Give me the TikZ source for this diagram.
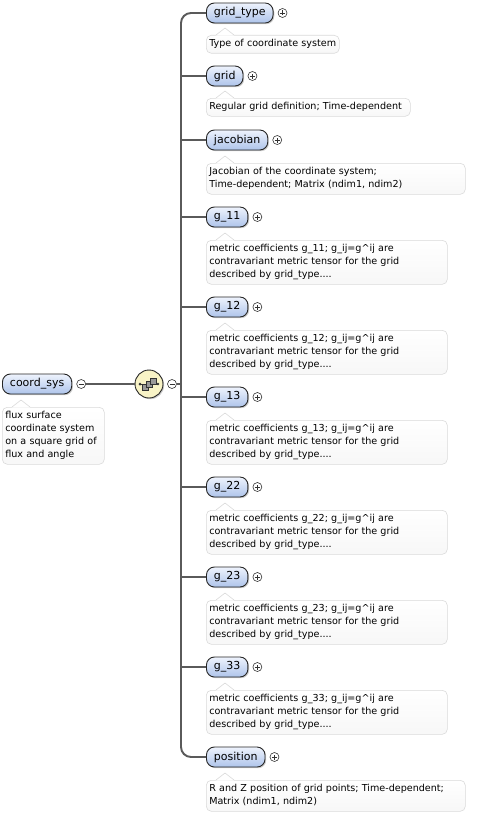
\documentclass[tikz,border=0pt]{standalone}
\usepackage{fontspec}
\setmainfont{DejaVu Sans}
\usetikzlibrary{shadows}
\definecolor{elemtop}{HTML}{EEF3FD}
\definecolor{elembot}{HTML}{AEC4EA}
\definecolor{linegray}{HTML}{5A5A5A}
\definecolor{notebord}{HTML}{DADADA}
\definecolor{seqfill}{HTML}{F8F3C6}
% little pointer on top of a note
\newcommand\notch[1]{%
  \path[fill=white] ([xshift=10pt,yshift=-0.6pt]#1.north west) -- ++(9pt,7.6pt) -- ++(9pt,-7.6pt) -- cycle;
  \draw[draw=notebord,line width=0.6pt] ([xshift=10pt]#1.north west) -- ++(9pt,7pt) -- ++(9pt,-7pt);}
\begin{document}
\begin{tikzpicture}[
    x=1pt, y=-1pt,
    elem/.style={draw=black!85,line width=0.9pt,rounded corners=8pt,top color=elemtop,bottom color=elembot,
        minimum height=20pt,inner xsep=7.5pt,inner ysep=0pt,anchor=west,font=\fontsize{11}{12}\selectfont,
        drop shadow={shadow xshift=1.2pt,shadow yshift=-1.2pt,fill=black!40}},
    note/.style={draw=notebord,line width=0.6pt,rounded corners=5pt,top color=white,bottom color=black!3,
        anchor=north west,align=left,inner xsep=3pt,inner ysep=2.5pt,font=\fontsize{9.6}{13}\selectfont,
        execute at begin node=\strut,execute at end node=\strut},
    pm/.style={circle,draw=black!80,fill=white,line width=0.6pt,minimum size=9pt,inner sep=0pt},
    pmminus/.style={pm,path picture={\draw[line width=0.6pt] (path picture bounding box.center) ++(-2.5pt,0) -- ++(5pt,0);}},
    pmplus/.style={pm,path picture={\draw[line width=0.6pt] (path picture bounding box.center) ++(-2.5pt,0) -- ++(5pt,0)
        (path picture bounding box.center) ++(0,-2.5pt) -- ++(0,5pt);}},
    seq/.style={circle,draw=black!85,line width=0.9pt,fill=seqfill,minimum size=28pt,inner sep=0pt,
        drop shadow={shadow xshift=1.2pt,shadow yshift=-1.2pt,fill=black!40}},
    seqbox/.style={draw=black!80,fill=black!40,line width=0.5pt,minimum size=6pt,inner sep=0pt},
    conn/.style={draw=linegray,line width=1.9pt},
    >=stealth
]
\useasboundingbox (0,0) rectangle (489,816);

% root element
\node[elem] (coordsys) at (2,384) {coord\_sys};
\node[pmminus] (coordsysm) at ([xshift=9pt]coordsys.east) {};
\node[note,text width=96pt] (coordsysnote) at (2,407) {flux surface\\coordinate system\\on a square grid of\\flux and angle};
\notch{coordsysnote}

% sequence
\node[seq] (seq) at (149,384) {};
\node[pmminus] (seqm) at (172,384) {};
\coordinate (bus) at (181,384);
\draw[conn] (coordsysm) -- (seq);
\draw[conn] (seqm) -- (bus);
\draw[black!80,line width=0.7pt] ([xshift=-9pt]seq.center) -- ([xshift=9pt]seq.center);
\fill[black!80] ([xshift=-9pt]seq.center) circle (1.5pt);
\node[seqbox] (sq1) at ([xshift=-4pt,yshift=-3pt]seq.center) {};
\node[seqbox] (sq2) at (seq.center) {};
\node[seqbox] (sq3) at ([xshift=4pt,yshift=3pt]seq.center) {};
\fill[black!80] ([xshift=9pt]seq.center) circle (1.3pt);

% children
\node[elem] (gridtype) at (206,13) {grid\_type};
\node[pmplus] (gridtypep) at ([xshift=9pt]gridtype.east) {};
\node[note,text width=127pt] (gridtypenote) at (206,35) {Type of coordinate system};
\notch{gridtypenote}

\node[elem] (grid) at (206,76) {grid};
\node[pmplus] (gridp) at ([xshift=9pt]grid.east) {};
\node[note,text width=198pt] (gridnote) at (206,98) {Regular grid definition; Time-dependent};
\notch{gridnote}

\node[elem] (jacobian) at (206,140) {jacobian};
\node[pmplus] (jacobianp) at ([xshift=9pt]jacobian.east) {};
\node[note,text width=253pt] (jacobiannote) at (206,163) {Jacobian of the coordinate system;\\Time-dependent; Matrix (ndim1, ndim2)};
\notch{jacobiannote}

\foreach \g [count=\i from 0] in {11,12,13,22,23,33} {
  \node[elem] (g\g) at (206,217+90*\i) {g\_\g};
  \node[pmplus] (p\g) at ([xshift=9pt]g\g.east) {};
  \node[note,text width=235pt] (n\g) at (206,240+90*\i)
    {metric coefficients g\_\g; g\_ij=g\textasciicircum ij are\\contravariant metric tensor for the grid\\described by grid\_type....};
  \notch{n\g}
  \draw[conn] (bus |- g\g.west) -- (g\g.west);
}

\node[elem] (position) at (206,757) {position};
\node[pmplus] (positionp) at ([xshift=9pt]position.east) {};
\node[note,text width=253pt] (positionnote) at (206,780) {R and Z position of grid points; Time-dependent;\\Matrix (ndim1, ndim2)};
\notch{positionnote}

\draw[conn,rounded corners=10pt] (gridtype.west) -| (bus) |- (position.west);
\draw[conn] (bus |- grid.west) -- (grid.west);
\draw[conn] (bus |- jacobian.west) -- (jacobian.west);
\end{tikzpicture}
\end{document}
